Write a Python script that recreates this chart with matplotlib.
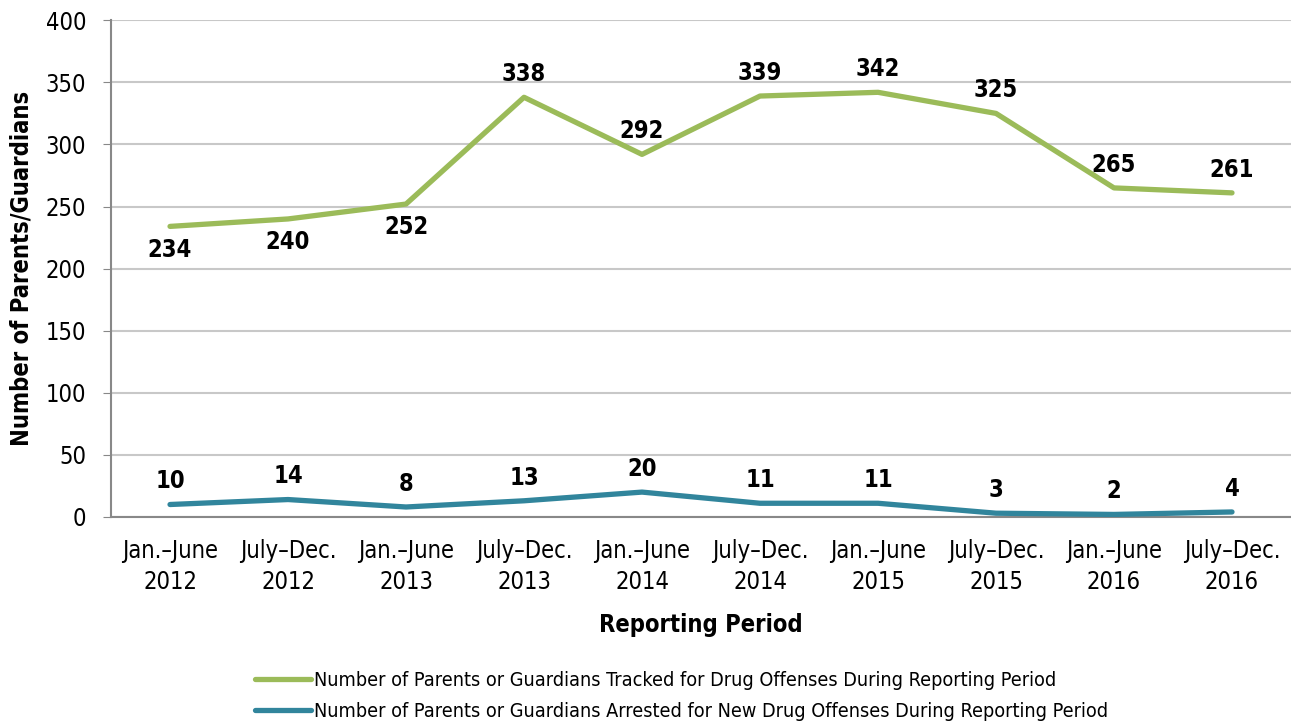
import matplotlib.pyplot as plt
from matplotlib.lines import Line2D

plt.rcParams['font.family'] = ['DejaVu Sans']
plt.rcParams['font.stretch'] = 'condensed'

periods = ['Jan.\u2013June\n2012', 'July\u2013Dec.\n2012', 'Jan.\u2013June\n2013', 'July\u2013Dec.\n2013',
           'Jan.\u2013June\n2014', 'July\u2013Dec.\n2014', 'Jan.\u2013June\n2015', 'July\u2013Dec.\n2015',
           'Jan.\u2013June\n2016', 'July\u2013Dec.\n2016']
tracked = [234, 240, 252, 338, 292, 339, 342, 325, 265, 261]
arrested = [10, 14, 8, 13, 20, 11, 11, 3, 2, 4]
tracked_below = [True, True, True, False, False, False, False, False, False, False]

green = '#9BBB59'
blue = '#31859C'

fig = plt.figure(figsize=(12.91, 7.25), dpi=100)
ax = fig.add_axes([0.086, 0.287, 0.914, 0.685])

x = list(range(len(periods)))
ax.plot(x, tracked, color=green, lw=3.8, solid_capstyle='round', zorder=3)
ax.plot(x, arrested, color=blue, lw=3.8, solid_capstyle='round', zorder=3)

for i, v in enumerate(tracked):
    if tracked_below[i]:
        ax.annotate(str(v), (i, v), xytext=(0, -8), textcoords='offset points',
                    ha='center', va='top', fontsize=17, fontweight='bold')
    else:
        ax.annotate(str(v), (i, v), xytext=(0, 8), textcoords='offset points',
                    ha='center', va='bottom', fontsize=17, fontweight='bold')
for i, v in enumerate(arrested):
    ax.annotate(str(v), (i, v), xytext=(0, 8), textcoords='offset points',
                ha='center', va='bottom', fontsize=17, fontweight='bold')

ax.set_xlim(-0.5, 9.5)
ax.set_ylim(0, 400)
ax.set_yticks(range(0, 401, 50))
ax.set_xticks(x)
ax.set_xticklabels(periods, fontsize=17, linespacing=1.35)
ax.tick_params(axis='y', labelsize=17, length=6, color='#888888', pad=12)
ax.tick_params(axis='x', length=0, pad=16)
ax.yaxis.grid(True, color='#C8C8C8', lw=1.5)
ax.set_axisbelow(True)
for s in ['top', 'right']:
    ax.spines[s].set_visible(False)
ax.spines['left'].set_color('#888888')
ax.spines['bottom'].set_color('#888888')
ax.spines['left'].set_linewidth(1.5)
ax.spines['bottom'].set_linewidth(1.5)

ax.set_xlabel('Reporting Period', fontsize=17, fontweight='bold', labelpad=14)
ax.set_ylabel('Number of Parents/Guardians', fontsize=17, fontweight='bold', labelpad=9)

handles = [Line2D([], [], color=green, lw=3.8, solid_capstyle='round'),
           Line2D([], [], color=blue, lw=3.8, solid_capstyle='round')]
labels = ['Number of Parents or Guardians Tracked for Drug Offenses During Reporting Period',
          'Number of Parents or Guardians Arrested for New Drug Offenses During Reporting Period']
fig.legend(handles, labels, loc='center', bbox_to_anchor=(0.528, 0.04), frameon=False,
           fontsize=14.2, handlelength=2.8, handletextpad=0.15, labelspacing=0.6)

fig.savefig('out.png', dpi=100)
